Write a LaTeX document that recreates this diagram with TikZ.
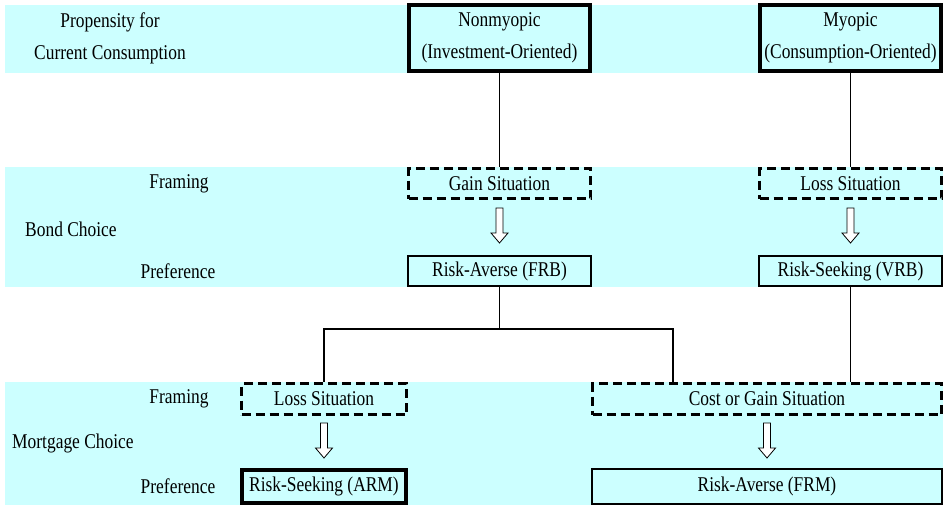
\documentclass[tikz,border=0pt]{standalone}
\usepackage{fontspec}
\setmainfont[FakeStretch=0.83]{Liberation Serif}
\usetikzlibrary{calc}
\definecolor{band}{RGB}{204,255,255}
\tikzset{
  lbl/.style={font=\fontsize{21}{32}\selectfont, inner sep=0pt, align=center},
  boxbase/.style={lbl, fill=band, minimum height=#1},
  thickbox/.style={boxbase=#1, draw, line width=3.8pt},
  thinbox/.style={boxbase=#1, draw, line width=2.2pt},
  dashbox/.style={boxbase=#1, draw, line width=3pt, dash pattern=on 9pt off 5pt},
  conn/.style={line width=1.8pt},
  harrow/.pic={\draw[fill=white, line width=0.8pt] (-3.5,0) -- (3.5,0) -- (3.5,25) -- (8.5,25) -- (0,35) -- (-8.5,25) -- (-3.5,25) -- cycle;}
}
\begin{document}
\begin{tikzpicture}[x=1pt,y=-1pt]
\useasboundingbox (0,0) rectangle (950,506);
% bands
\fill[band] (5,5) rectangle (943,73);
\fill[band] (5,167) rectangle (943,287);
\fill[band] (5,382) rectangle (943,505);
% row labels
\node[lbl] (prop) at (110,38) {Propensity for\\Current Consumption};
\node[lbl] (fr1) at (179,184) {Framing};
\node[lbl, anchor=west] (bc) at (25,229) {Bond Choice};
\node[lbl] (pr1) at (178,271) {Preference};
\node[lbl] (fr2) at (179,399) {Framing};
\node[lbl, anchor=west] (mc) at (12,443) {Mortgage Choice};
\node[lbl] (pr2) at (178,486) {Preference};
% boxes
\node[thickbox=66.2pt, minimum width=181.2pt] (nonm) at (499.5,38) {Nonmyopic\\(Investment-Oriented)};
\node[thickbox=66.2pt, minimum width=181.2pt] (myo) at (850.5,38) {Myopic\\(Consumption-Oriented)};
\node[dashbox=30pt, minimum width=182pt] (gain) at (499.5,183.5) {Gain Situation};
\node[dashbox=30pt, minimum width=182pt] (lossb) at (850.5,183.5) {Loss Situation};
\node[thinbox=29.8pt, minimum width=182.8pt] (frb) at (499.5,271) {Risk-Averse (FRB)};
\node[thinbox=29.8pt, minimum width=182.8pt] (vrb) at (850.5,271) {Risk-Seeking (VRB)};
\node[dashbox=31pt, minimum width=165pt] (lossm) at (324,399) {Loss Situation};
\node[dashbox=31pt, minimum width=349pt] (cost) at (767,399) {Cost or Gain Situation};
\node[thickbox=33.2pt, minimum width=164.2pt] (arm) at (324,486.5) {Risk-Seeking (ARM)};
\node[thinbox=34.8pt, minimum width=349.8pt] (frm) at (767,486.5) {Risk-Averse (FRM)};
% connectors
\coordinate (j) at (499.5,329);
\draw[conn] (nonm.south) -- (gain.north);
\draw[conn] (myo.south) -- (lossb.north);
\draw[conn] (frb.south) -- (j);
\draw[conn] (lossm.north) |- (j);
\draw[conn] (j) -| ([xshift=82pt]cost.north west);
\draw[conn] (vrb.south) -- (vrb.south |- cost.north);
% hollow arrows
\pic at ($(gain.south)+(0,8)$) {harrow};
\pic at ($(lossb.south)+(0,8)$) {harrow};
\pic at ($(lossm.south)+(0,7)$) {harrow};
\pic at ($(cost.south)+(0,7)$) {harrow};
\end{tikzpicture}
\end{document}
